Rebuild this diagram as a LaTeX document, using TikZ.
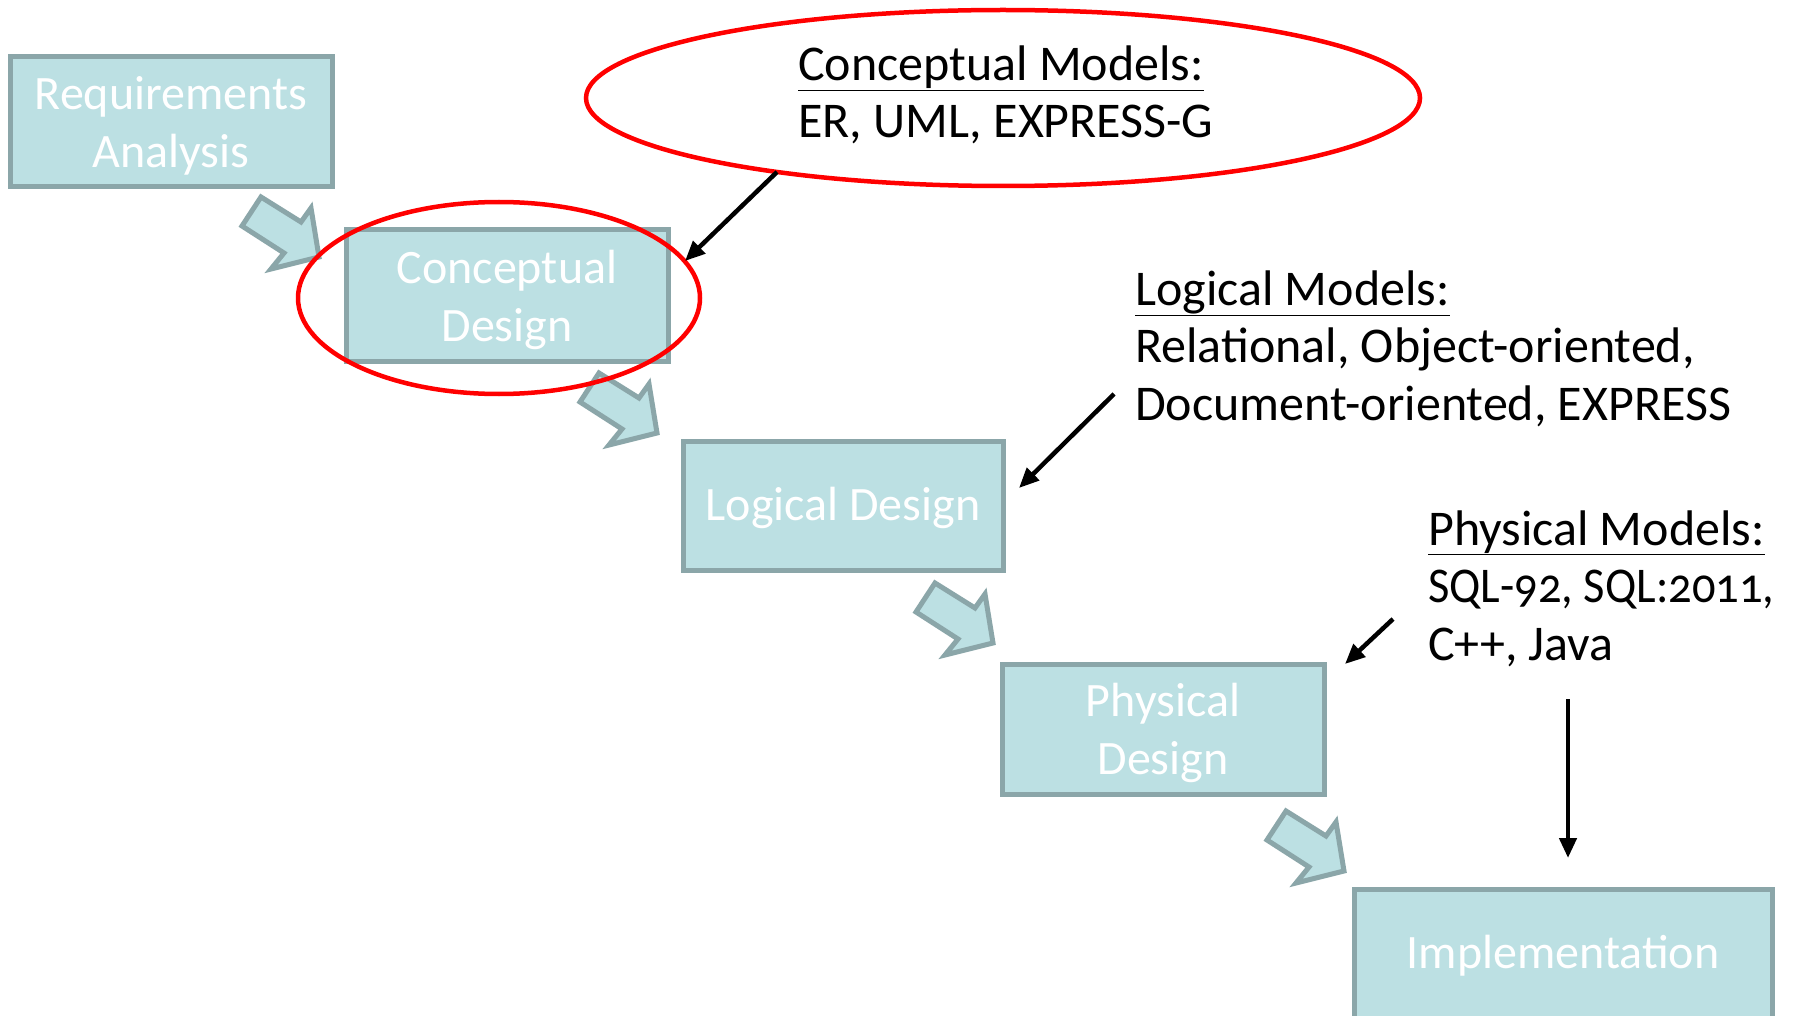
\documentclass[tikz,border=0pt]{standalone}
\usepackage{fontspec}
\usepackage{graphicx}
\setmainfont{Carlito}[Numbers=OldStyle]
\usetikzlibrary{arrows.meta,shapes.geometric}
\definecolor{boxfill}{HTML}{BCE0E3}
\definecolor{boxline}{HTML}{8BA6A9}
\definecolor{ellred}{HTML}{FF0000}
\tikzset{
  stagebox/.style={draw=boxline, fill=boxfill, line width=5pt, rectangle,
    inner sep=0pt},
  stagetext/.style={inner sep=0pt, align=center, text=white,
    font=\fontsize{48}{58}\selectfont},
  blockarrow/.style={draw=boxline, fill=boxfill, line width=5pt, line join=miter},
  modeltext/.style={anchor=base west, inner sep=0pt, align=left,
    font=\fontsize{50}{57.5}\selectfont},
  hint/.style={line width=4.5pt, -{Triangle[length=20pt,width=17pt]}},
  redring/.style={draw=ellred, line width=4.5pt}
}
\newcommand\stagearrow[1]{%
  \draw[blockarrow, shift={(#1)}] (-58,-60) -- (-18,-35) -- (-8,-49) -- (0,0)
    -- (-48,12) -- (-35,-4) -- (-77,-31) -- cycle;}
\begin{document}
\begin{tikzpicture}[x=1pt,y=-1pt]
\useasboundingbox (0,0) rectangle (1796,1016);
\clip (0,0) rectangle (1796,1016);
\fill[white] (0,0) rectangle (1796,1016);

% stage boxes
\node[stagebox, minimum width=322pt, minimum height=130pt] (req) at (171,122) {};
\node[stagebox, minimum width=322pt, minimum height=131pt] (con) at (507,295.5) {};
\node[stagebox, minimum width=320pt, minimum height=129pt] (log) at (843,505.5) {};
\node[stagebox, minimum width=322pt, minimum height=130pt] (phy) at (1163,729) {};
\node[stagebox, minimum width=418pt, minimum height=130pt] (imp) at (1563,954) {};
\node[stagetext] (reqt) at ([yshift=-4pt]req.center) {Requirements\\Analysis};
\node[stagetext] (cont) at ([yshift=-4pt]con.center) {Conceptual\\Design};
\node[stagetext] (logt) at ([yshift=-2pt]log.center) {Logical Design};
\node[stagetext] (phyt) at ([yshift=-4pt]phy.center) {Physical\\Design};
\node[stagetext] (impt) at ([yshift=-2pt]imp.center) {Implementation};

% block arrows between stages
\stagearrow{319,257}
\stagearrow{657,433}
\stagearrow{993,643}
\stagearrow{1344,871}

% red ellipses
\node[redring, ellipse, minimum width=834pt, minimum height=176pt, inner sep=0pt] (cmring) at (1003,98) {};
\node[redring, ellipse, minimum width=402pt, minimum height=192pt, inner sep=0pt] (cdring) at (499,298) {};

% model texts (base = baseline of last line)
\node[modeltext] (cm) at (798,138) {\underline{Conceptual Models:}\\ER, UML, EXPRESS-G};
\node[modeltext] (lm) at (1135,420) {\underline{Logical Models:}\\Relational, Object-oriented,\\Document-oriented, EXPRESS};
\node[modeltext] (pm) at (1428,660) {\underline{Physical Models:}\\\scalebox{0.93}[1]{SQL-92, SQL:2011,}\\C++, Java};

% pointer arrows
\coordinate (a1s) at (777,172); \coordinate (a1e) at (685,261);
\coordinate (a2s) at (1114,394); \coordinate (a2e) at (1019,488);
\coordinate (a3s) at (1393,619); \coordinate (a3e) at (1345,664);
\coordinate (a4s) at (1568,699); \coordinate (a4e) at (1568,858);
\draw[hint] (a1s) -- (a1e);
\draw[hint] (a2s) -- (a2e);
\draw[hint] (a3s) -- (a3e);
\draw[hint] (a4s) -- (a4e);
\end{tikzpicture}
\end{document}
